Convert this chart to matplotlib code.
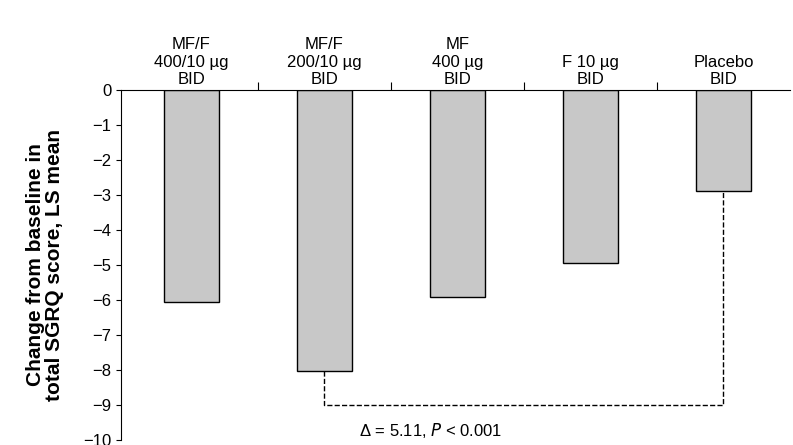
import matplotlib.pyplot as plt
import numpy as np

labels = ['MF/F\n400/10 µg\nBID', 'MF/F\n200/10 µg\nBID', 'MF\n400 µg\nBID', 'F 10 µg\nBID', 'Placebo\nBID']
values = [-6.05, -8.02, -5.9, -4.94, -2.88]

plt.rcParams['font.family'] = ['Liberation Sans', 'DejaVu Sans']
fig = plt.figure(figsize=(7.93, 4.45), dpi=100)
ax = fig.add_axes([121/793, 5/445, 669/793, 350/445])
x = np.arange(len(values))
ax.bar(x, values, width=0.42, color='#c8c8c8', edgecolor='black', linewidth=1)
ax.set_xlim(-0.53, 4.5)
ax.set_ylim(-10, 0)
ax.set_yticks(np.arange(0, -11, -1))
ax.set_yticklabels(['0'] + ['\u2212%d' % i for i in range(1, 11)], fontsize=12)
ax.spines['top'].set_visible(False)
ax.spines['right'].set_visible(False)
ax.spines['bottom'].set_position(('data', 0))
ax.set_xticks(x[:-1] + 0.5)
ax.set_xticklabels([])
ax.tick_params(axis='x', direction='in', length=6)
for xi, lab in zip(x, labels):
    ax.text(xi, 0.08, lab, ha='center', va='bottom', fontsize=12, linespacing=1.2)
ax.plot([1, 1, 4, 4], [values[1], -9, -9, values[4]], color='black', ls='--', lw=1)
ax.text(1.8, -9.72, '\u0394 = 5.11, $P$ < 0.001', ha='center', va='center', fontsize=12)
ax.set_ylabel('Change from baseline in\ntotal SGRQ score, LS mean', fontsize=15, fontweight='bold', linespacing=1.0)
ax.yaxis.set_label_coords(-0.085, 0.5)
fig.savefig('out.png', dpi=100)
